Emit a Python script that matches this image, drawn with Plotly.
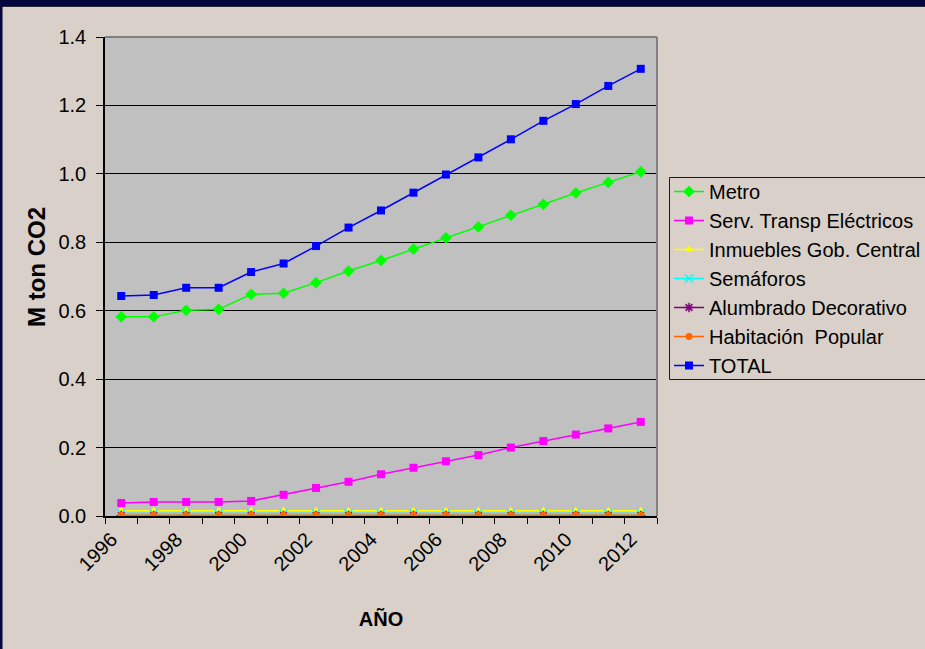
import plotly.graph_objects as go

years = list(range(1996, 2013))
label_years = [1996, 1998, 2000, 2002, 2004, 2006, 2008, 2010, 2012]

metro = [0.582, 0.582, 0.601, 0.604, 0.648, 0.651, 0.682, 0.716, 0.747, 0.780, 0.813,
         0.845, 0.879, 0.911, 0.944, 0.975, 1.006]
serv_transp = [0.038, 0.041, 0.041, 0.041, 0.044, 0.062, 0.082, 0.100, 0.122, 0.141,
               0.160, 0.178, 0.200, 0.219, 0.238, 0.256, 0.275]
inmuebles = [0.015] * 17
semaforos = [0.007] * 17
alumbrado = [0.001] * 17
habitacion = [0.002] * 17
total = [0.643, 0.646, 0.667, 0.667, 0.713, 0.738, 0.789, 0.843, 0.893, 0.945, 0.998,
         1.048, 1.101, 1.155, 1.204, 1.257, 1.307]

series = [
    ("Metro", metro, "#00ff00", "diamond", 9),
    ("Serv. Transp Eléctricos", serv_transp, "#ff00ff", "square", 8),
    ("Inmuebles Gob. Central", inmuebles, "#ffff00", "triangle-up", 8),
    ("Semáforos", semaforos, "#00ffff", "x-thin", 8),
    ("Alumbrado Decorativo", alumbrado, "#800080", "asterisk", 8),
    ("Habitación  Popular", habitacion, "#ff6600", "circle", 7),
    ("TOTAL", total, "#0000ff", "square", 8),
]

FONT = "Arial, Liberation Sans, sans-serif"
BEIGE = "#d8d0c9"
NAVY = "#06063f"

fig = go.Figure()
for name, vals, color, sym, size in series:
    marker = dict(color=color, symbol=sym, size=size)
    if sym in ("x-thin", "asterisk"):
        marker["line"] = dict(color=color, width=1.5)
    fig.add_trace(go.Scatter(
        x=years, y=vals, name=name, mode="lines+markers",
        line=dict(color=color, width=1.5), marker=marker,
    ))

L, R, T, B = 105, 268, 37, 133
W, H = 925, 649
pw, ph = W - L - R, H - T - B

def px_x(p):
    return (p - L) / pw

def px_y(p):
    return (H - B - p) / ph

shapes = [
    # navy slide edges
    dict(type="rect", xref="paper", yref="paper", x0=px_x(-5), x1=px_x(W + 5),
         y0=px_y(6), y1=px_y(-5), fillcolor=NAVY, line_width=0, layer="above"),
    dict(type="rect", xref="paper", yref="paper", x0=px_x(-5), x1=px_x(W + 5),
         y0=px_y(7), y1=px_y(6), fillcolor="#2a2a3a", line_width=0, layer="above"),
    dict(type="rect", xref="paper", yref="paper", x0=px_x(-5), x1=px_x(2.5),
         y0=px_y(H + 5), y1=px_y(6), fillcolor=NAVY, line_width=0, layer="above"),
    # plot-area top and right border
    dict(type="line", xref="x domain", yref="y domain", x0=0, x1=1, y0=1, y1=1,
         line=dict(color="#808080", width=2), layer="above"),
    dict(type="line", xref="x domain", yref="y domain", x0=1, x1=1, y0=0, y1=1,
         line=dict(color="#808080", width=2), layer="above"),
    # legend frame
    dict(type="rect", xref="paper", yref="paper", x0=px_x(669.5), x1=px_x(W + 20),
         y0=px_y(379.5), y1=px_y(177.5), fillcolor=BEIGE,
         line=dict(color="#1a1a1a", width=1), layer="above"),
]

fig.update_layout(
    width=W, height=H,
    margin=dict(l=L, r=R, t=T, b=B, autoexpand=False),
    paper_bgcolor=BEIGE,
    plot_bgcolor="#c0c0c0",
    font=dict(family=FONT, size=20, color="#000000"),
    showlegend=True,
    legend=dict(
        x=px_x(669), xanchor="left", y=px_y(172), yanchor="top",
        bgcolor="rgba(0,0,0,0)", borderwidth=0,
        font=dict(family=FONT, size=20, color="#000000"),
        tracegroupgap=0, itemwidth=30,
    ),
    shapes=shapes,
    annotations=[dict(
        text="<b>M ton CO2</b>", textangle=-90, showarrow=False,
        xref="paper", yref="paper", x=px_x(36), y=px_y(267),
        xanchor="center", yanchor="middle",
        font=dict(family=FONT, size=24, color="#000000"),
    )],
    xaxis=dict(
        range=[years[0] - 0.5, years[-1] + 0.5],
        tickmode="array", tickvals=[y - 0.3 for y in label_years],
        ticktext=[str(y) for y in label_years],
        tickangle=-45, ticks="", ticklen=0, ticklabelstandoff=2,
        showgrid=False, zeroline=False,
        showline=True, linecolor="#000000", linewidth=1.5,
        tickfont=dict(family=FONT, size=20),
        minor=dict(tickmode="array", tickvals=[y - 0.5 for y in years] + [years[-1] + 0.5],
                   ticks="outside", ticklen=6, tickcolor="#000000", tickwidth=1, showgrid=False),
        title=dict(text="<b>AÑO</b>", font=dict(family=FONT, size=20), standoff=38),
    ),
    yaxis=dict(
        range=[0, 1.4], tickmode="array", tickvals=[0, 0.2, 0.4, 0.6, 0.8, 1.0, 1.2, 1.4],
        tickformat=".1f", ticks="outside", ticklen=7, tickcolor="#000000",
        ticklabelstandoff=6,
        showgrid=True, gridcolor="#000000", gridwidth=1.2,
        zeroline=False, showline=True, linecolor="#000000", linewidth=1.5,
        tickfont=dict(family=FONT, size=20),
    ),
)

fig.write_html(
    "out.html",
    config={"displayModeBar": False},
    post_script="document.body.style.margin='0';document.body.style.overflow='hidden';",
)
